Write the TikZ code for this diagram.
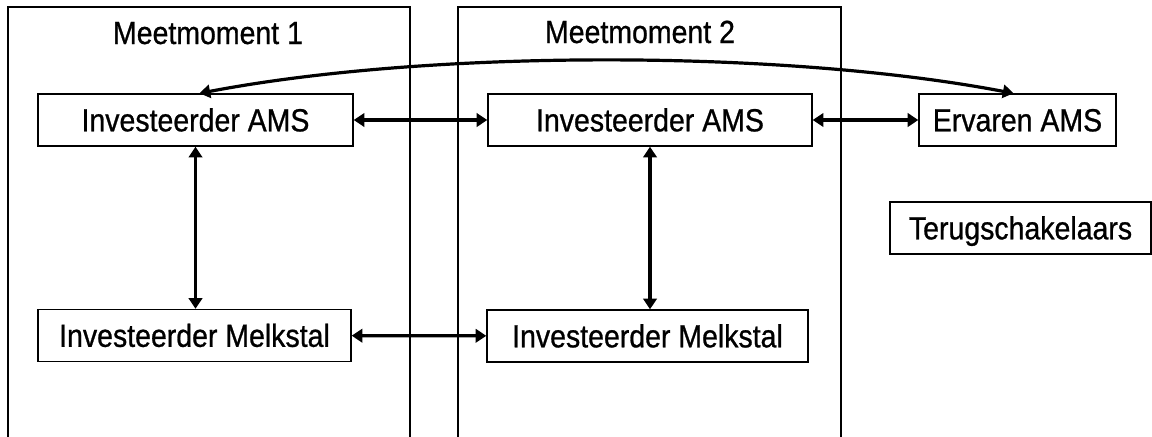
\documentclass[tikz,border=0pt]{standalone}
\usepackage{fontspec}
\setmainfont[FakeStretch=0.89,FakeBold=0.8]{Liberation Sans}
\usetikzlibrary{arrows.meta}
\begin{document}
\begin{tikzpicture}[x=0.75pt,y=-0.75pt,
  box/.style={draw, line width=1pt, minimum height=39pt, inner sep=0pt, text height=17pt, text depth=0pt},
  link/.style={<->, >={Triangle[length=8pt,width=10pt]}, line width=2.4pt},
  every node/.style={font=\fontsize{24pt}{28pt}\selectfont}]
\useasboundingbox (0,0) rectangle (1152,436);
\clip (0,0) rectangle (1152,436);
\draw[line width=1pt] (8,7) rectangle (410,460);
\draw[line width=1pt] (458,7) rectangle (841,460);
\node[anchor=base] (mm1) at (208,44){Meetmoment 1};
\node[anchor=base] (mm2) at (640,43){Meetmoment 2};
\node[box, minimum width=236.25pt] (ams1) at (195.5,120){Investeerder AMS};
\node[box, minimum width=234.75pt] (melk1) at (194.5,335.5){Investeerder Melkstal};
\node[box, minimum width=243pt] (ams2) at (650,120){Investeerder AMS};
\node[box, minimum width=240.75pt] (melk2) at (647.5,336){Investeerder Melkstal};
\node[box, minimum width=147.75pt] (erv) at (1017.5,120){Ervaren AMS};
\node[box, minimum width=195.75pt] (terug) at (1020.5,228){Terugschakelaars};
\draw[link](ams1) -- (ams2);
\draw[link](ams2) -- (erv);
\draw[link](melk1) -- (melk2);
\draw[link](ams1.south) -- (ams1.south |- melk1.north);
\draw[link](ams2.south) -- (ams2.south |- melk2.north);
\draw[link]([xshift=3pt]ams1.north) .. controls +(230,-44) and +(-230,-44) .. ([xshift=-3pt]erv.north);
\end{tikzpicture}
\end{document}
